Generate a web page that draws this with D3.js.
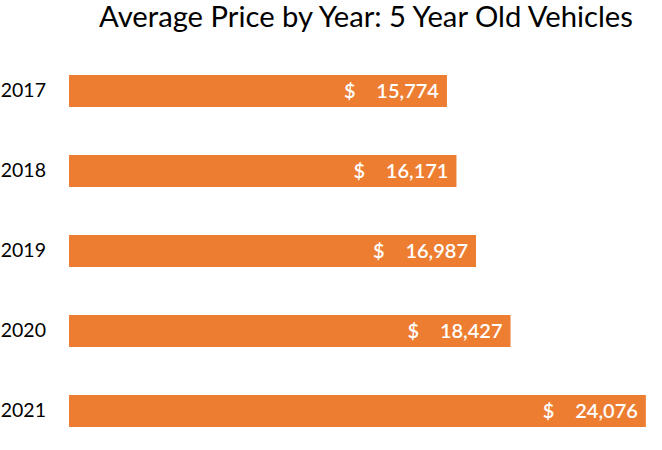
<!DOCTYPE html>
<html>
<head>
<meta charset="utf-8">
<script src="https://cdn.jsdelivr.net/npm/d3@7"></script>
<style>
  body { margin: 0; background: #fff; }
  svg text { font-family: Lato, "Open Sans", sans-serif; }
</style>
</head>
<body>
<div class="chart"></div>
<script>
// chart data
const years = ['2017', '2018', '2019', '2020', '2021'];
const prices = [15774, 16171, 16987, 18427, 24076];
const titleText = 'Average Price by Year: 5 Year Old Vehicles';

const width = 662, height = 450;
const data = years.map((y, i) => ({year: y, price: prices[i]}));

const svg = d3.select('.chart').append('svg')
  .attr('width', width)
  .attr('height', height);

const xScale = d3.scaleLinear()
  .domain([0, 25000])
  .range([69, 668]);

const yScale = d3.scaleBand()
  .domain(years)
  .range([51, 451])
  .paddingInner(0.6)
  .paddingOuter(0.3);

// shrink/grow a text so it spans the given width
function fitText(sel, target, base) {
  sel.style('font-size', base + 'px');
  const w = sel.node().getComputedTextLength();
  sel.style('font-size', (base * target / w).toFixed(2) + 'px');
}

const title = svg.append('text')
  .attr('x', 366)
  .attr('y', 27)
  .attr('text-anchor', 'middle')
  .attr('fill', '#000')
  .text(titleText);
fitText(title, 534, 26);

svg.selectAll('.bar')
  .data(data)
  .enter()
  .append('rect')
    .attr('class', 'bar')
    .attr('x', xScale(0))
    .attr('y', d => yScale(d.year))
    .attr('width', d => xScale(d.price) - xScale(0))
    .attr('height', yScale.bandwidth())
    .attr('fill', '#ED7D31');

const yAxis = d3.axisLeft(yScale).tickSize(0).tickPadding(0);
const yg = svg.append('g')
  .attr('class', 'axis y-axis')
  .attr('transform', 'translate(46,0)')
  .call(yAxis);
yg.select('.domain').remove();
yg.selectAll('text')
  .attr('fill', '#000')
  .style('font-size', '19.5px');

const fmt = d3.format(',');
const labels = svg.selectAll('.val')
  .data(data)
  .enter()
  .append('g')
  .attr('class', 'val')
  .attr('transform', d => `translate(${xScale(d.price)},${yScale(d.year) + yScale.bandwidth() / 2})`);

labels.append('text')
  .attr('x', -8)
  .attr('dy', '0.36em')
  .attr('text-anchor', 'end')
  .attr('fill', '#fff')
  .style('font-size', '20px')
  .style('font-weight', 600)
  .text(d => fmt(d.price));

labels.append('text')
  .attr('x', -103)
  .attr('dy', '0.36em')
  .attr('fill', '#fff')
  .style('font-size', '20px')
  .style('font-weight', 600)
  .text('$');
</script>
</body>
</html>
